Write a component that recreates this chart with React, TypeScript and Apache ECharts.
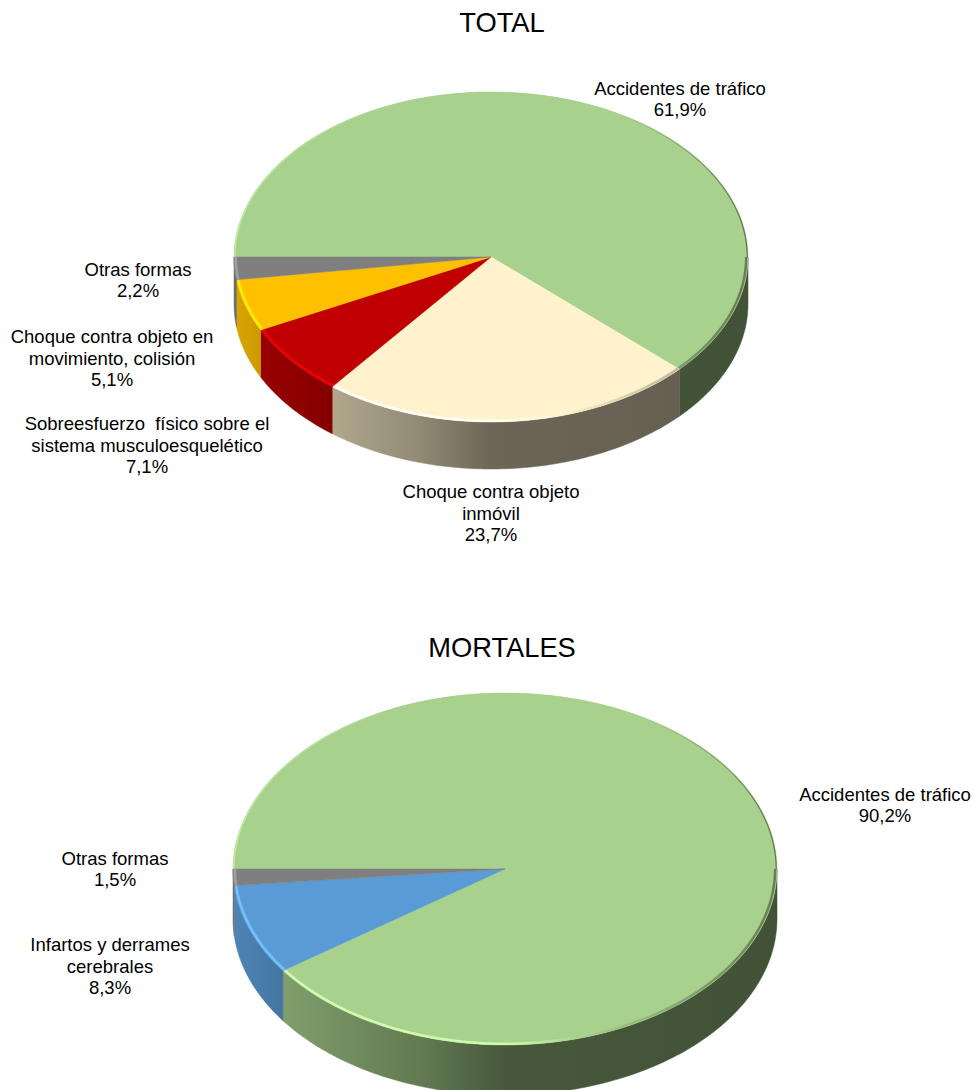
import React, { useEffect, useRef } from "react";
import * as echarts from "echarts";

const totalCategories = ["Accidentes de tráfico", "Choque contra objeto inmóvil", "Sobreesfuerzo físico sobre el sistema musculoesquelético", "Choque contra objeto en movimiento, colisión", "Otras formas"];
const totalValues = [61.9, 23.7, 7.1, 5.1, 2.2];
const totalColors = ["#A9D18E", "#FFF2CC", "#C00000", "#FFC000", "#7F7F7F"];
const mortalCategories = ["Accidentes de tráfico", "Infartos y derrames cerebrales", "Otras formas"];
const mortalValues = [90.2, 8.3, 1.5];
const mortalColors = ["#A9D18E", "#5B9BD5", "#7F7F7F"];

const totalLabels = [
  { text: "Accidentes de tráfico\n61,9%", x: 680, y: 99 },
  { text: "Otras formas\n2,2%", x: 138, y: 280 },
  { text: "Choque contra objeto en\nmovimiento, colisión\n5,1%", x: 112, y: 358 },
  { text: "Sobreesfuerzo  físico sobre el\nsistema musculoesquelético\n7,1%", x: 147, y: 445 },
  { text: "Choque contra objeto\ninmóvil\n23,7%", x: 491, y: 513 },
];
const mortalLabels = [
  { text: "Accidentes de tráfico\n90,2%", x: 885, y: 805 },
  { text: "Otras formas\n1,5%", x: 115, y: 869 },
  { text: "Infartos y derrames\ncerebrales\n8,3%", x: 110, y: 966 },
];

const shade = (hex: string, f: number) => {
  const n = parseInt(hex.slice(1), 16);
  const c = [(n >> 16) & 255, (n >> 8) & 255, n & 255].map((v) => Math.min(255, Math.round(v * f)));
  return `rgb(${c.join(",")})`;
};

function pieSeries(values: number[], names: string[], colors: string[], cx: number, cy: number, rx: number, ry: number, depth: number, seriesName: string) {
  const sum = values.reduce((a, b) => a + b, 0);
  const pt = (deg: number, dy = 0, k = 1) => {
    const r = (deg * Math.PI) / 180;
    return [cx + rx * k * Math.sin(r), cy - ry * k * Math.cos(r) + dy];
  };
  const arc = (a: number, b: number, dy = 0, k = 1) => {
    const out: number[][] = [];
    const n = Math.max(2, Math.ceil(Math.abs(b - a)));
    for (let i = 0; i <= n; i++) out.push(pt(a + ((b - a) * i) / n, dy, k));
    return out;
  };
  const wallGrad = (c: string) =>
    new echarts.graphic.LinearGradient(cx - rx, 0, cx + rx, 0, [
      { offset: 0, color: shade(c, 0.86) },
      { offset: 0.09, color: shade(c, 0.76) },
      { offset: 0.35, color: shade(c, 0.58) },
      { offset: 0.5, color: shade(c, 0.42) },
      { offset: 1, color: shade(c, 0.39) },
    ], true);
  const frontRim = (c: string) =>
    new echarts.graphic.LinearGradient(cx - rx, 0, cx + rx, 0, [
      { offset: 0, color: shade(c, 1.25) },
      { offset: 0.5, color: shade(c, 1.2) },
      { offset: 0.64, color: c },
      { offset: 0.82, color: shade(c, 0.8) },
      { offset: 1, color: shade(c, 0.6) },
    ], true);
  const upperRim = (c: string) =>
    new echarts.graphic.LinearGradient(cx - rx, 0, cx + rx, 0, [
      { offset: 0, color: shade(c, 1.15) },
      { offset: 0.3, color: c },
      { offset: 0.75, color: c },
      { offset: 0.88, color: shade(c, 0.8) },
      { offset: 1, color: shade(c, 0.55) },
    ], true);
  return {
    type: "custom",
    name: seriesName,
    coordinateSystem: "none",
    silent: true,
    data: values.map((v, i) => ({ name: names[i], value: [v, i] })),
    renderItem: (_params: any, api: any) => {
      const i = api.value(1);
      const before = values.slice(0, i).reduce((a, b) => a + b, 0);
      const a0 = 270 + (before / sum) * 360;
      const a1 = a0 + (api.value(0) / sum) * 360;
      const children: any[] = [];
      const c = colors[i];
      const fLo = Math.max(a0, 450);
      const fHi = Math.min(a1, 630);
      if (fHi > fLo) {
        children.push({
          type: "polygon",
          shape: { points: [...arc(fLo, fHi), ...arc(fHi, fLo, depth)] },
          style: { fill: wallGrad(c), stroke: wallGrad(c), lineWidth: 0.5 },
        });
      }
      children.push({
        type: "polygon",
        shape: { points: [[cx, cy], ...arc(a0, a1)] },
        style: { fill: c, stroke: c, lineWidth: 0.5 },
      });
      if (fHi > fLo) {
        children.push({
          type: "polyline",
          shape: { points: arc(fLo, fHi, 0, 0.993) },
          style: { fill: "none", stroke: frontRim(c), lineWidth: 2.5 },
        });
      }
      const uHi = Math.min(a1, 450);
      if (uHi > a0) {
        children.push({
          type: "polyline",
          shape: { points: arc(a0, uHi, 0, 0.997) },
          style: { fill: "none", stroke: upperRim(c), lineWidth: 1.2 },
        });
      }
      return { type: "group", children };
    },
  };
}

const labelText = (l: { text: string; x: number; y: number }) => ({
  type: "text",
  x: l.x,
  y: l.y,
  style: {
    text: l.text,
    fill: "#000",
    font: '18.5px "Liberation Sans", Arial, sans-serif',
    lineHeight: 21.7,
    align: "center",
    verticalAlign: "middle",
  },
});

const titleStyle = { fontFamily: '"Liberation Sans", Arial', fontSize: 27.3, fontWeight: "normal", color: "#000" };

export default function App() {
  const ref = useRef<HTMLDivElement>(null);
  useEffect(() => {
    document.body.style.margin = "0";
    const chart = echarts.init(ref.current!, undefined, { renderer: "svg" });
    chart.setOption({
      animation: false,
      backgroundColor: "#fff",
      title: [
        { text: "TOTAL", left: 502, top: 9, padding: 0, textAlign: "center", textStyle: titleStyle },
        { text: "MORTALES", left: 502, top: 634, padding: 0, textAlign: "center", textStyle: titleStyle },
      ],
      series: [
        pieSeries(totalValues, totalCategories, totalColors, 491, 257, 257, 165, 47, "TOTAL"),
        pieSeries(mortalValues, mortalCategories, mortalColors, 505, 869, 272, 176, 50, "MORTALES"),
      ],
      graphic: [...totalLabels, ...mortalLabels].map(labelText),
    });
    return () => chart.dispose();
  }, []);
  return <div ref={ref} style={{ width: 975, height: 1090, overflow: "hidden" }} />;
}
